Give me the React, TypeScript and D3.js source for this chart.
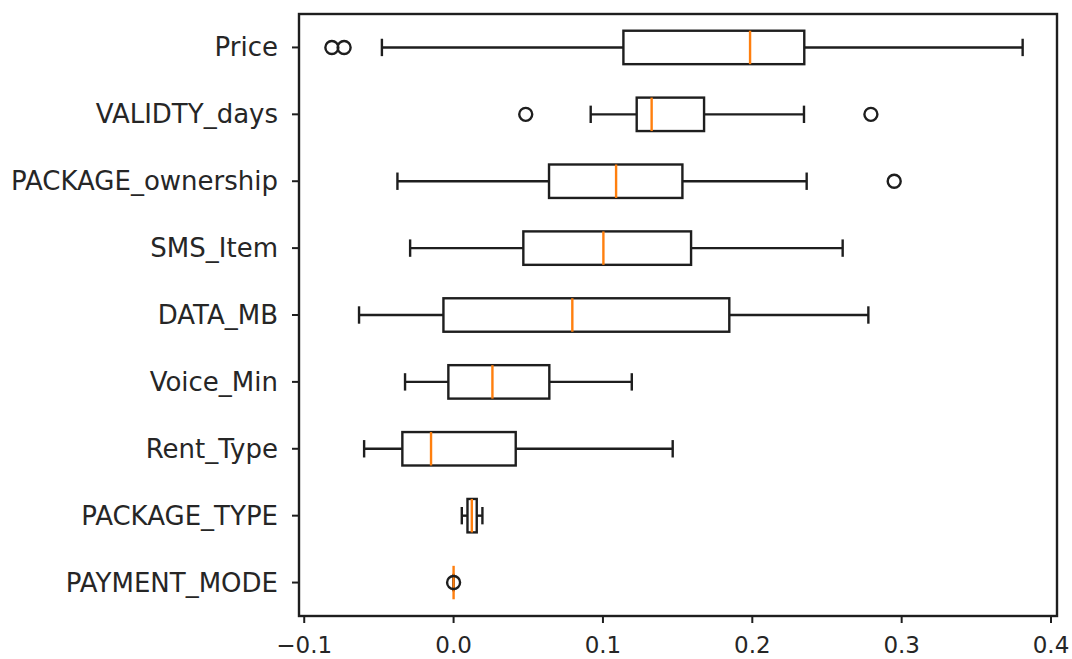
import React from "react";
import * as d3 from "d3";

const categories = [
  "Price",
  "VALIDTY_days",
  "PACKAGE_ownership",
  "SMS_Item",
  "DATA_MB",
  "Voice_Min",
  "Rent_Type",
  "PACKAGE_TYPE",
  "PAYMENT_MODE",
];
const whiskerLow = [-0.048, 0.0918, -0.0376, -0.0291, -0.0633, -0.0325, -0.0599, 0.0055, 0.0];
const q1 = [0.1137, 0.1226, 0.0639, 0.0467, -0.0068, -0.0035, -0.0343, 0.0093, 0.0];
const median = [0.1985, 0.1326, 0.1088, 0.1003, 0.0795, 0.026, -0.0151, 0.0122, 0.0];
const q3 = [0.2348, 0.1677, 0.1532, 0.159, 0.1846, 0.0641, 0.0416, 0.0155, 0.0];
const whiskerHigh = [0.381, 0.2346, 0.2364, 0.2605, 0.2777, 0.1193, 0.1467, 0.0193, 0.0];
const outliers: number[][] = [
  [-0.0815, -0.0733],
  [0.0483, 0.2794],
  [0.295],
  [],
  [],
  [],
  [],
  [],
  [0.0],
];
const xTicks = [-0.1, 0.0, 0.1, 0.2, 0.3, 0.4];

const W = 1072;
const H = 659;
const left = 299;
const right = 1057;
const top = 14;
const bottom = 616;

export default function App() {
  const x = d3.scaleLinear().domain([-0.1035, 0.404]).range([left, right]);
  const y = d3.scaleBand<string>().domain(categories).range([top, bottom]).padding(0);
  const bw = y.bandwidth();
  const boxH = bw * 0.5;
  const capH = bw * 0.26;
  const fmt = d3.format(".1f");
  const stroke = "#1e1e1e";
  const sw = 2.4;
  const font = "'DejaVu Sans', sans-serif";

  return (
    <svg
      width={W}
      height={H}
      style={{ position: "absolute", left: 0, top: 0, background: "#fff" }}
    >
      {categories.map((c, i) => {
        const cy = (y(c) as number) + bw / 2;
        const x1 = x(q1[i]);
        const x3 = x(q3[i]);
        return (
          <g key={c}>
            <line x1={x(whiskerLow[i])} x2={x1} y1={cy} y2={cy} stroke={stroke} strokeWidth={sw} />
            <line x1={x3} x2={x(whiskerHigh[i])} y1={cy} y2={cy} stroke={stroke} strokeWidth={sw} />
            <line
              x1={x(whiskerLow[i])}
              x2={x(whiskerLow[i])}
              y1={cy - capH / 2}
              y2={cy + capH / 2}
              stroke={stroke}
              strokeWidth={sw}
            />
            <line
              x1={x(whiskerHigh[i])}
              x2={x(whiskerHigh[i])}
              y1={cy - capH / 2}
              y2={cy + capH / 2}
              stroke={stroke}
              strokeWidth={sw}
            />
            <rect
              x={x1}
              y={cy - boxH / 2}
              width={Math.max(0, x3 - x1)}
              height={boxH}
              fill="none"
              stroke={stroke}
              strokeWidth={sw}
            />
            <line
              x1={x(median[i])}
              x2={x(median[i])}
              y1={cy - boxH / 2}
              y2={cy + boxH / 2}
              stroke="#ff7f0e"
              strokeWidth={sw}
            />
            {outliers[i].map((o, j) => (
              <circle key={j} cx={x(o)} cy={cy} r={6.5} fill="none" stroke={stroke} strokeWidth={sw} />
            ))}
            <line x1={left - 7} x2={left} y1={cy} y2={cy} stroke={stroke} strokeWidth={2} />
            <text
              x={left - 21}
              y={cy}
              textAnchor="end"
              dominantBaseline="central"
              fontFamily={font}
              fontSize={26}
              fill="#262626"
            >
              {c}
            </text>
          </g>
        );
      })}
      <rect
        x={left}
        y={top}
        width={right - left}
        height={bottom - top}
        fill="none"
        stroke={stroke}
        strokeWidth={2.4}
      />
      {xTicks.map((t) => (
        <g key={t}>
          <line x1={x(t)} x2={x(t)} y1={bottom} y2={bottom + 7} stroke={stroke} strokeWidth={2} />
          <text
            x={x(t)}
            y={653}
            textAnchor="middle"
            fontFamily={font}
            fontSize={23}
            fill="#262626"
          >
            {fmt(t).replace("-", "\u2212")}
          </text>
        </g>
      ))}
    </svg>
  );
}
